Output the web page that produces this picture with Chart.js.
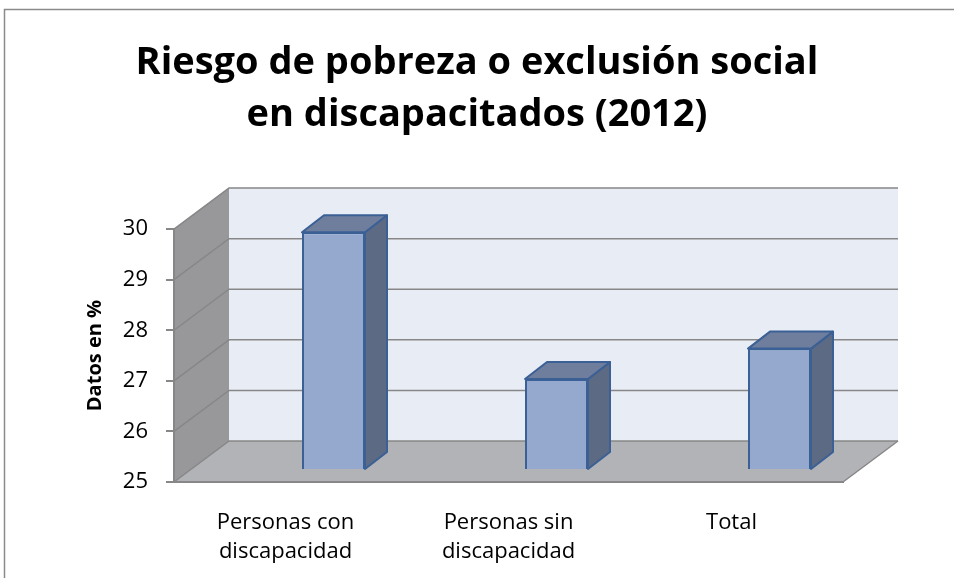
<!DOCTYPE html>
<html>
<head>
<meta charset="utf-8">
<script src="https://cdn.jsdelivr.net/npm/chart.js@4/dist/chart.umd.min.js"></script>
<style>
  html, body { margin: 0; padding: 0; background: #fff; }
  #wrap { width: 954px; height: 578px; position: relative; }
</style>
</head>
<body>
<div id="wrap"><canvas id="chart"></canvas></div>
<script>
// datos
const categories = [["Personas con", "discapacidad"], ["Personas sin", "discapacidad"], "Total"];
const values = [29.7, 26.8, 27.4];
const yMin = 25;
const yMax = 30;

// efecto 3D (offsets en px)
const WALL_DX = 55, WALL_DY = -41;
const BAR_SHIFT_X = 48, BAR_SHIFT_Y = -12;
const BAR_DX = 22, BAR_DY = -17;
const GRID_COLOR = "#878787";

const poly = (ctx, pts) => {
  ctx.beginPath();
  ctx.moveTo(pts[0][0], pts[0][1]);
  for (let i = 1; i < pts.length; i++) ctx.lineTo(pts[i][0], pts[i][1]);
  ctx.closePath();
};

const box3d = {
  id: "box3d",
  beforeDraw(chart) {
    const { ctx, chartArea: a } = chart;
    const y = chart.scales.y;
    ctx.save();
    // marco exterior
    ctx.strokeStyle = "#8a8a8a";
    ctx.lineWidth = 1.5;
    ctx.beginPath();
    ctx.moveTo(4.5, 578);
    ctx.lineTo(4.5, 9.5);
    ctx.lineTo(954, 9.5);
    ctx.stroke();

    const L = a.left, R = a.right, T = a.top, B = a.bottom;
    // pared lateral
    ctx.fillStyle = "#98989b";
    poly(ctx, [[L, T], [L + WALL_DX, T + WALL_DY], [L + WALL_DX, B + WALL_DY], [L, B]]);
    ctx.fill();
    // pared del fondo
    ctx.fillStyle = "#e8ecf5";
    ctx.fillRect(L + WALL_DX, T + WALL_DY, R - L, B - T);
    // suelo
    ctx.fillStyle = "#b1b3b7";
    poly(ctx, [[L, B], [L + WALL_DX, B + WALL_DY], [R + WALL_DX, B + WALL_DY], [R, B]]);
    ctx.fill();
    ctx.strokeStyle = GRID_COLOR;
    ctx.lineWidth = 1.5;
    ctx.beginPath();
    ctx.moveTo(R, B);
    ctx.lineTo(R + WALL_DX, B + WALL_DY);
    ctx.stroke();

    // líneas de división
    y.ticks.forEach((t) => {
      const py = y.getPixelForValue(t.value);
      ctx.beginPath();
      ctx.moveTo(L, py);
      ctx.lineTo(L + WALL_DX, py + WALL_DY);
      ctx.lineTo(R + WALL_DX, py + WALL_DY);
      ctx.stroke();
    });
    ctx.restore();
  },
  beforeDatasetDraw(chart, args) {
    const { ctx } = chart;
    const meta = chart.getDatasetMeta(args.index);
    ctx.save();
    ctx.lineWidth = 2;
    ctx.lineJoin = "round";
    ctx.strokeStyle = "#3b6096";
    meta.data.forEach((el) => {
      const x0 = el.x - el.width / 2 + BAR_SHIFT_X;
      const x1 = el.x + el.width / 2 + BAR_SHIFT_X;
      const yt = el.y + BAR_SHIFT_Y;
      const yb = el.base + BAR_SHIFT_Y;
      // lado
      ctx.fillStyle = "#5c6a84";
      poly(ctx, [[x1, yt], [x1 + BAR_DX, yt + BAR_DY], [x1 + BAR_DX, yb + BAR_DY], [x1, yb]]);
      ctx.fill();
      ctx.stroke();
      // tapa
      ctx.fillStyle = "#6f7e9d";
      poly(ctx, [[x0, yt], [x1, yt], [x1 + BAR_DX, yt + BAR_DY], [x0 + BAR_DX, yt + BAR_DY]]);
      ctx.fill();
      ctx.stroke();
    });
    ctx.restore();
    // cara frontal: la dibuja Chart.js desplazada
    ctx.save();
    ctx.translate(BAR_SHIFT_X, BAR_SHIFT_Y);
  },
  afterDatasetDraw(chart) {
    chart.ctx.restore();
  },
};

new Chart(document.getElementById("chart"), {
  type: "bar",
  data: {
    labels: categories,
    datasets: [
      {
        data: values,
        base: yMin,
        backgroundColor: "#95a9cf",
        borderColor: "#3b6096",
        borderWidth: 2,
        barPercentage: 63 / 223,
        categoryPercentage: 1,
        clip: false,
      },
    ],
  },
  options: {
    responsive: true,
    maintainAspectRatio: false,
    animation: false,
    layout: { padding: 0 },
    plugins: {
      legend: { display: false },
      tooltip: { enabled: false },
      title: {
        display: true,
        text: ["Riesgo de pobreza o exclusión social", "en discapacitados (2012)"],
        color: "#000",
        font: { family: "'Open Sans'", size: 38, weight: "bold", lineHeight: 1.37 },
        padding: { top: 37, bottom: 88 },
      },
    },
    scales: {
      x: {
        grid: { display: false },
        border: { display: true, color: GRID_COLOR, width: 2 },
        ticks: {
          color: "#000",
          font: { family: "'Open Sans'", size: 22, lineHeight: 1.28 },
          padding: 19,
          maxRotation: 0,
        },
        afterFit: (s) => {
          s.height = 96;
        },
      },
      y: {
        min: yMin,
        max: yMax,
        grid: { display: true, drawOnChartArea: false, drawTicks: true, tickLength: 8, color: GRID_COLOR, lineWidth: 2 },
        border: { display: true, color: GRID_COLOR, width: 2 },
        ticks: {
          stepSize: 1,
          color: "#000",
          padding: 18,
          font: { family: "'Open Sans'", size: 22 },
        },
        title: {
          display: true,
          text: "Datos en %",
          color: "#000",
          font: { family: "'Open Sans'", size: 20, weight: "bold", lineHeight: 1.2 },
          padding: { top: 83, bottom: 0 },
        },
        afterFit: (s) => {
          s.width = 174;
        },
      },
      // eje vacío a la derecha: deja el hueco para la profundidad
      yRight: {
        position: "right",
        display: true,
        grid: { display: false },
        border: { display: false },
        ticks: { display: false },
        afterFit: (s) => {
          s.width = 111;
        },
      },
    },
  },
  plugins: [box3d],
});
</script>
</body>
</html>
